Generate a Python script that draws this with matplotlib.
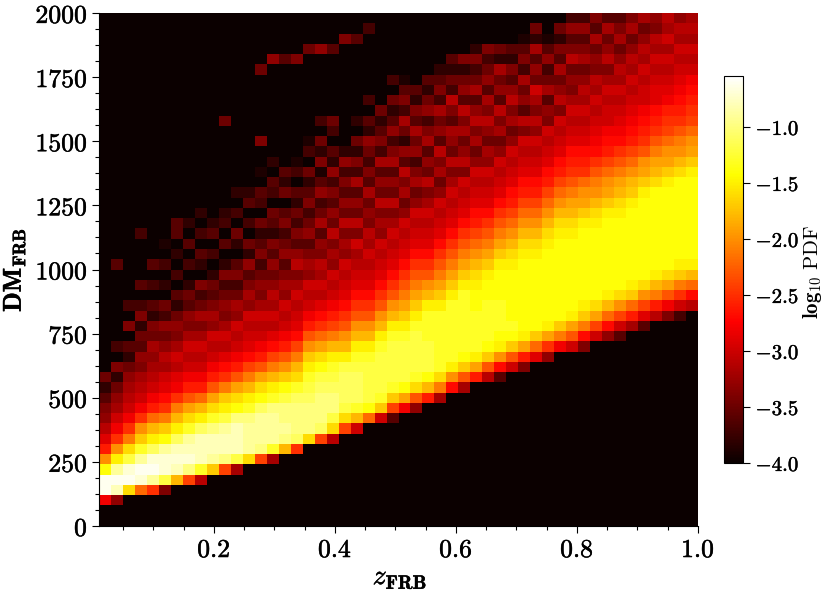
import matplotlib
matplotlib.use("Agg")
import matplotlib.pyplot as plt
import matplotlib.patheffects as pe
from matplotlib.ticker import MultipleLocator, FixedLocator, FixedFormatter
import numpy as np

plt.rcParams['mathtext.fontset'] = 'cm'

# on a 50 x 50 grid, DM bins of 40 pc/cm3
# each column is -log10(PDF) in tenths, starting at first_bin[column], rest is empty
first_bin = [2, 2, 3, 3, 3, 3, 4, 4, 4, 5,
             5, 5, 6, 6, 6, 7, 7, 8, 8, 8,
             9, 9, 10, 10, 10, 11, 11, 12, 12, 13,
             13, 14, 14, 14, 15, 15, 16, 16, 17, 17,
             17, 18, 18, 18, 19, 19, 20, 20, 20, 21]

columns = [
    [28, 6, 6, 14, 20, 26, 29, 31, 33, 34, 36, 38, 35],
    [33, 8, 6, 9, 15, 20, 25, 28, 30, 32, 33, 35, 38, 34, 40, 37],
    [16, 6, 7, 12, 16, 21, 25, 28, 30, 31, 32, 33, 35, 38, 36, 40, 34, 40, 37],
    [22, 7, 6, 9, 13, 17, 20, 25, 28, 30, 31, 32, 34, 33, 36, 35, 38, 34, 37, 40, 36],
    [25, 9, 6, 7, 11, 15, 18, 22, 26, 28, 30, 31, 32, 33, 32, 35, 34, 38, 36, 40, 37, 40, 36],
    [34, 12, 7, 7, 9, 14, 17, 21, 25, 27, 29, 30, 32, 31, 33, 35, 33, 37, 35, 40, 38, 40, 37, 40, 39],
    [18, 8, 7, 8, 11, 15, 18, 21, 25, 28, 29, 31, 30, 32, 34, 33, 35, 38, 36, 40, 37, 40, 38, 40, 36],
    [24, 10, 7, 8, 9, 13, 16, 19, 23, 26, 28, 30, 31, 30, 32, 34, 33, 36, 35, 38, 40, 37, 40, 36, 40, 38],
    [31, 13, 8, 8, 8, 11, 15, 18, 22, 26, 28, 30, 31, 30, 32, 34, 32, 35, 37, 34, 40, 38, 36, 40, 37, 40, 38],
    [17, 9, 8, 8, 10, 13, 16, 19, 23, 26, 28, 30, 31, 30, 33, 32, 34, 36, 35, 38, 40, 37, 40, 36, 38],
    [24, 10, 8, 8, 9, 12, 15, 17, 21, 25, 27, 29, 31, 30, 32, 34, 33, 35, 37, 34, 38, 40, 36, 40, 37, 38],
    [32, 12, 8, 8, 8, 10, 14, 16, 19, 23, 26, 28, 30, 31, 30, 33, 32, 35, 37, 34, 36, 40, 38, 35, 40, 37, 40, 38],
    [16, 9, 9, 9, 10, 13, 15, 18, 21, 24, 27, 29, 30, 31, 30, 33, 32, 34, 36, 33, 38, 35, 40, 37, 40, 36, 38],
    [24, 10, 9, 9, 9, 11, 14, 16, 19, 23, 26, 28, 30, 31, 30, 32, 34, 33, 35, 37, 34, 36, 38, 35, 40, 37, 36, 40, 39, 40, 40, 34],
    [32, 13, 9, 9, 9, 10, 13, 15, 18, 21, 24, 27, 29, 31, 30, 32, 31, 33, 35, 33, 36, 34, 38, 36, 35, 40, 37, 36, 40, 38],
    [18, 10, 9, 10, 10, 12, 14, 17, 20, 23, 26, 28, 30, 31, 30, 33, 32, 34, 36, 33, 35, 37, 34, 36, 40, 35, 38, 36],
    [25, 11, 10, 10, 10, 11, 13, 16, 18, 21, 24, 27, 29, 30, 31, 30, 32, 34, 31, 33, 36, 34, 37, 35, 38, 36, 40, 37, 39],
    [16, 10, 10, 10, 11, 12, 13, 15, 17, 20, 23, 26, 28, 30, 31, 30, 33, 32, 34, 36, 33, 35, 37, 34, 36, 38, 35, 40, 37, 39],
    [24, 11, 10, 10, 10, 11, 12, 14, 16, 19, 22, 25, 27, 29, 31, 30, 32, 31, 34, 33, 36, 32, 35, 37, 33, 36, 39, 34, 38, 35, 40, 37],
    [31, 16, 12, 10, 10, 11, 12, 13, 15, 18, 21, 24, 26, 28, 30, 31, 30, 33, 32, 34, 31, 35, 33, 36, 34, 37, 33, 38, 36, 40, 37, 35],
    [24, 16, 12, 11, 11, 11, 12, 15, 18, 20, 23, 25, 27, 29, 30, 31, 30, 33, 32, 34, 31, 35, 33, 36, 34, 37, 33, 38],
    [30, 18, 13, 11, 11, 11, 12, 13, 15, 18, 20, 23, 25, 27, 29, 30, 31, 32, 30, 34, 31, 35, 33, 36, 32, 37, 34, 38, 35, 40, 38],
    [22, 14, 12, 12, 12, 12, 13, 15, 18, 20, 23, 25, 27, 29, 30, 31, 30, 32, 31, 34, 33, 35, 32, 36, 34, 37, 35, 33, 38, 36, 40, 37],
    [30, 17, 13, 12, 12, 12, 12, 13, 15, 18, 20, 23, 25, 27, 29, 30, 31, 30, 33, 32, 34, 31, 35, 33, 36, 32, 37, 34, 36, 38, 35],
    [36, 24, 17, 13, 12, 12, 12, 12, 13, 15, 18, 20, 23, 25, 27, 29, 30, 31, 30, 32, 34, 31, 35, 33, 36, 32, 34, 37, 33, 36, 38, 35, 40, 37],
    [28, 19, 14, 12, 12, 12, 12, 13, 15, 17, 19, 21, 23, 25, 27, 29, 30, 31, 30, 33, 35, 32, 34, 31, 36, 33, 38, 35, 32, 37, 34, 36, 39],
    [33, 23, 16, 13, 12, 12, 12, 12, 13, 15, 17, 19, 21, 23, 25, 27, 29, 30, 31, 30, 33, 35, 32, 34, 37, 33, 35, 32, 36, 34, 38, 36],
    [26, 18, 14, 12, 12, 12, 13, 13, 13, 15, 18, 20, 23, 25, 27, 29, 30, 31, 30, 32, 34, 31, 35, 33, 36, 32, 34, 37, 33, 35, 38, 36, 40],
    [32, 21, 16, 13, 13, 13, 13, 13, 13, 15, 17, 19, 21, 23, 25, 27, 29, 30, 31, 30, 33, 35, 32, 34, 31, 36, 33, 35, 32, 37, 34, 36, 38],
    [27, 20, 15, 13, 13, 13, 13, 13, 13, 15, 17, 19, 21, 23, 25, 27, 29, 30, 31, 30, 32, 34, 31, 35, 33, 32, 36, 34, 31, 37, 35, 38, 36],
    [32, 23, 17, 14, 13, 13, 13, 13, 13, 13, 15, 17, 19, 21, 23, 25, 27, 29, 30, 31, 30, 34, 31, 33, 35, 32, 34, 31, 36, 33, 35, 38, 34],
    [26, 19, 15, 13, 13, 13, 13, 14, 14, 15, 16, 18, 20, 22, 24, 26, 27, 29, 30, 31, 30, 33, 35, 32, 34, 31, 33, 36, 32, 35, 37, 34, 38],
    [31, 23, 17, 14, 13, 13, 13, 13, 14, 14, 15, 17, 19, 21, 23, 25, 27, 29, 30, 31, 30, 33, 32, 35, 33, 31, 34, 32, 36, 33, 35, 37, 34],
    [36, 27, 20, 15, 14, 13, 13, 13, 14, 14, 14, 15, 17, 19, 21, 23, 25, 27, 29, 30, 31, 30, 33, 35, 32, 34, 31, 36, 33, 35, 32, 38, 35],
    [30, 23, 17, 14, 13, 14, 14, 14, 14, 14, 15, 16, 18, 20, 22, 24, 26, 27, 29, 30, 31, 30, 33, 35, 32, 34, 31, 33, 36, 34, 38, 36],
    [34, 26, 19, 15, 14, 14, 14, 14, 14, 14, 14, 15, 16, 18, 20, 22, 24, 26, 27, 29, 30, 31, 30, 34, 31, 36, 33, 35, 32, 37, 34, 36, 39],
    [29, 22, 17, 14, 14, 14, 14, 14, 14, 14, 15, 16, 18, 20, 22, 24, 26, 27, 29, 30, 31, 30, 33, 31, 34, 32, 30, 35, 33, 36, 32, 38, 35],
    [33, 25, 19, 15, 14, 14, 14, 14, 14, 14, 14, 15, 16, 18, 20, 22, 24, 26, 27, 29, 30, 31, 30, 34, 33, 36, 32, 35, 37, 33, 36, 39],
    [28, 21, 17, 14, 14, 14, 14, 14, 14, 14, 14, 15, 16, 18, 20, 22, 24, 26, 27, 29, 30, 31, 30, 34, 31, 33, 35, 32, 36, 34, 38, 35],
    [30, 23, 19, 15, 14, 14, 14, 14, 14, 14, 14, 15, 16, 18, 19, 21, 23, 25, 26, 27, 29, 30, 31, 30, 32, 34, 33, 35, 31, 34, 36, 33, 37],
    [34, 27, 21, 17, 15, 14, 14, 14, 14, 14, 14, 14, 15, 17, 19, 20, 22, 25, 26, 27, 29, 30, 31, 30, 32, 31, 33, 35, 32, 34, 36, 33, 37],
    [30, 24, 19, 16, 14, 14, 14, 14, 14, 14, 14, 15, 16, 18, 20, 21, 23, 25, 27, 28, 29, 30, 31, 30, 32, 31, 34, 33, 35, 32, 36, 34],
    [33, 27, 22, 18, 15, 14, 14, 14, 14, 14, 14, 14, 15, 17, 19, 20, 22, 24, 26, 27, 28, 30, 30, 31, 30, 32, 34, 31, 33, 35, 32, 36],
    [36, 30, 24, 20, 16, 14, 14, 14, 14, 14, 14, 14, 15, 16, 18, 19, 21, 23, 25, 27, 28, 29, 30, 31, 30, 32, 31, 33, 35, 32, 34, 36],
    [32, 26, 22, 17, 15, 14, 14, 14, 14, 14, 14, 14, 15, 17, 18, 20, 22, 24, 26, 27, 28, 29, 30, 31, 30, 32, 31, 33, 35, 32, 34],
    [36, 29, 24, 20, 16, 14, 14, 14, 14, 14, 14, 14, 14, 15, 17, 19, 20, 23, 25, 26, 27, 28, 30, 30, 31, 30, 32, 31, 33, 35, 32],
    [31, 26, 21, 18, 15, 14, 14, 14, 14, 14, 14, 14, 14, 16, 18, 19, 21, 23, 25, 26, 27, 29, 29, 30, 31, 30, 32, 31, 34, 33],
    [34, 28, 23, 19, 16, 14, 14, 14, 14, 14, 14, 14, 14, 15, 17, 19, 20, 22, 24, 25, 26, 28, 29, 30, 31, 30, 32, 30, 32, 31],
    [37, 30, 25, 21, 17, 15, 14, 14, 14, 14, 14, 14, 14, 14, 16, 18, 20, 21, 23, 25, 26, 27, 28, 29, 30, 31, 30, 32, 31, 33],
    [31, 27, 22, 18, 15, 14, 14, 14, 14, 14, 14, 14, 14, 15, 17, 19, 20, 22, 24, 25, 26, 27, 28, 30, 31, 30, 32, 31, 32],
]

# isolated dark specks far above the main band
speck_col = [1, 13, 14, 15, 16, 17, 18, 19, 20, 21, 22, 10, 13, 3, 6]
speck_row = [25, 44, 45, 45, 45, 46, 46, 46, 47, 47, 48, 39, 37, 28, 29]
speck_val = [36, 35, 33, 36, 34, 35, 33, 36, 34, 36, 37, 35, 34, 37, 36]

x_ticks = [0.2, 0.4, 0.6, 0.8, 1.0]
x_labels = ['0.2', '0.4', '0.6', '0.8', '1.0']
y_ticks = [0, 250, 500, 750, 1000, 1250, 1500, 1750, 2000]
y_labels = ['0', '250', '500', '750', '1000', '1250', '1500', '1750', '2000']
cbar_ticks = [-4.0, -3.5, -3.0, -2.5, -2.0, -1.5, -1.0]
cbar_labels = ['-4.0', '-3.5', '-3.0', '-2.5', '-2.0', '-1.5', '-1.0']


def bold(s):
    return r'$\mathbf{' + s + '}$'


def thicken(labels, width=0.35):
    for t in labels:
        t.set_path_effects([pe.withStroke(linewidth=width, foreground='black')])


grid = np.full((50, 50), -4.0)
for c, col in enumerate(columns):
    for i, v in enumerate(col):
        if first_bin[c] + i < 50:
            grid[first_bin[c] + i, c] = -v / 10.0
for c, r, v in zip(speck_col, speck_row, speck_val):
    grid[r, c] = -v / 10.0

# the original has 100 x 100 cells, each table entry covers four of them
fine = np.repeat(np.repeat(grid, 2, axis=0), 2, axis=1)
z_edges = np.linspace(0.01, 1.0, 101)
dm_edges = np.linspace(0, 2000, 101)

fig = plt.figure(figsize=(8.3, 5.93), dpi=100)
ax = fig.add_axes([99 / 830, 1 - 526 / 593, 599 / 830, 513 / 593])
mesh = ax.pcolormesh(z_edges, dm_edges, fine, cmap='hot', vmin=-4.0, vmax=-0.545)

ax.set_xlim(0.01, 1.0)
ax.set_ylim(0, 2000)
ax.spines['top'].set_visible(False)
ax.spines['right'].set_visible(False)
ax.xaxis.set_major_locator(FixedLocator(x_ticks))
ax.xaxis.set_major_formatter(FixedFormatter([bold(s) for s in x_labels]))
ax.xaxis.set_minor_locator(MultipleLocator(0.05))
ax.yaxis.set_major_locator(FixedLocator(y_ticks))
ax.yaxis.set_major_formatter(FixedFormatter([bold(s) for s in y_labels]))
ax.yaxis.set_minor_locator(MultipleLocator(62.5))
ax.tick_params(which='major', length=5, width=0.8, labelsize=18.5, pad=3)
ax.tick_params(which='minor', length=3, width=0.8)
thicken(ax.get_xticklabels())
thicken(ax.get_yticklabels())

xl = fig.text(400 / 830, 1 - 577 / 593, r'$z_{\mathbf{FRB}}$', fontsize=20, ha='center', va='center')
yl = fig.text(14 / 830, 1 - 270 / 593, r'$\mathbf{DM_{FRB}}$', fontsize=18.5, rotation=90,
              ha='center', va='center')
thicken([xl, yl])

cax = fig.add_axes([724 / 830, 1 - 463 / 593, 19 / 830, 387 / 593])
cbar = fig.colorbar(mesh, cax=cax)
cbar.set_ticks(cbar_ticks)
cbar.set_ticklabels([bold(s) for s in cbar_labels])
cbar.ax.tick_params(length=5, width=0.8, labelsize=15, pad=4)
thicken(cbar.ax.get_yticklabels(), 0.3)
cbar.outline.set_linewidth(0.8)
fig.text(812 / 830, 1 - 272 / 593, r'$\mathbf{log_{10}}\ \mathrm{PDF}$', fontsize=15, rotation=90,
         ha='center', va='center')

plt.savefig('out.png', dpi=100)
